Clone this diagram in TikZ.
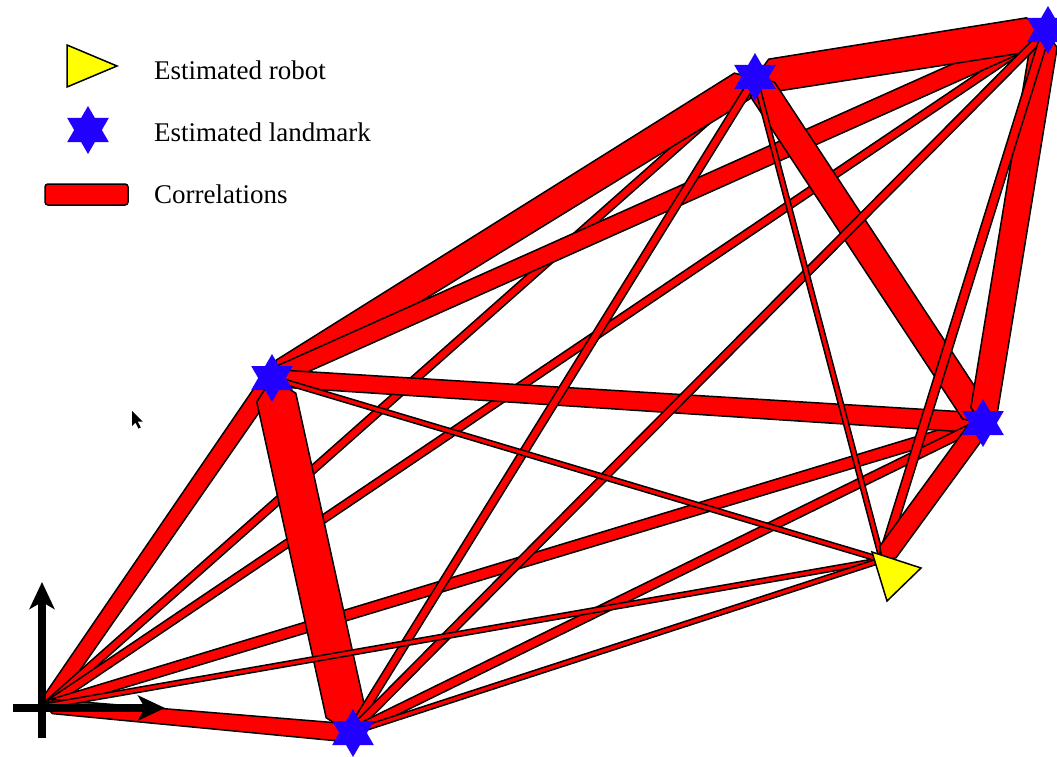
\documentclass[tikz,border=0pt]{standalone}
\usepackage{fontspec}
\setmainfont{Liberation Serif}
\usetikzlibrary{calc,shapes.geometric,arrows.meta}
\definecolor{lmblue}{RGB}{34,0,255}
\definecolor{bandred}{RGB}{255,0,0}
\definecolor{robyel}{RGB}{255,255,0}
\tikzset{
  bandsty/.style={fill=bandred, draw=black, line width=1.5pt, line join=round},
  lmstar/.style={star, star points=6, star point ratio=1.732, minimum size=48pt, inner sep=0pt, fill=lmblue, draw=none},
  robsty/.style={fill=robyel, draw=black, line width=1.5pt, line join=miter},
  axsty/.style={line width=7.5pt, -{Stealth[length=27pt,width=25pt,inset=7pt]}},
  legtext/.style={anchor=base west, inner sep=0pt, font=\fontsize{27}{32}\selectfont},
  cursorsty/.style={fill=black, draw=none}
}
% #1 start, #2 end, #3 half width at start, #4 half width at end
\newcommand\corrband[4]{%
  \filldraw[bandsty] (#1) -- ($(#1)!#3!(#2)!#3!90:(#2)$) -- ($(#2)!#4!(#1)!#4!-90:(#1)$) -- (#2)
    -- ($(#2)!#4!(#1)!#4!90:(#1)$) -- ($(#1)!#3!(#2)!#3!-90:(#2)$) -- cycle;}
\begin{document}
\begin{tikzpicture}[x=1pt,y=-1pt]
\useasboundingbox (0,0) rectangle (1057,757);
% band end points
\coordinate (O)  at (46,706);
\coordinate (L1) at (272,378);
\coordinate (L2) at (755,78);
\coordinate (L3) at (1046,32);
\coordinate (L4) at (982,423);
\coordinate (L5) at (350,733);
\coordinate (R)  at (882,560);
% correlations
\corrband{O}{L1}{7.5pt}{9pt}
\corrband{O}{L2}{4pt}{4pt}
\corrband{L1}{L2}{13pt}{15pt}
\corrband{O}{L3}{4pt}{4pt}
\corrband{L1}{L3}{9pt}{9pt}
\corrband{L2}{L3}{16.5pt}{17pt}
\corrband{O}{L4}{5pt}{6pt}
\corrband{L1}{L4}{8.5pt}{10pt}
\corrband{L2}{L4}{14pt}{14pt}
\corrband{L3}{L4}{13.5pt}{13.5pt}
\corrband{O}{L5}{7pt}{9pt}
\corrband{L1}{L5}{20pt}{20pt}
\corrband{L2}{L5}{4pt}{4pt}
\corrband{L3}{L5}{4pt}{4pt}
\corrband{L4}{L5}{4.5pt}{4.5pt}
\corrband{O}{R}{2.5pt}{2.5pt}
\corrband{L1}{R}{2.5pt}{2.5pt}
\corrband{L2}{R}{2.5pt}{2.5pt}
\corrband{L3}{R}{4.5pt}{4.5pt}
\corrband{L4}{R}{10pt}{10pt}
\corrband{L5}{R}{2.5pt}{2.5pt}
% axes
\coordinate (axb) at (42,738);
\coordinate (axt) at (42,582);
\coordinate (axl) at (13,708);
\coordinate (axr) at (165,708);
\draw[axsty] (axb) -- (axt);
\draw[axsty] (axl) -- (axr);
% landmarks
\node[lmstar] (s1) at (272,378) {};
\node[lmstar] (s2) at (755,77) {};
\node[lmstar] (s3) at (1048,30) {};
\node[lmstar] (s4) at (983,423) {};
\node[lmstar] (s5) at (353,733) {};
% robot
\coordinate (ra) at (872,552);
\coordinate (rb) at (921,568);
\coordinate (rc) at (887,601);
\draw[robsty] (ra) -- (rb) -- (rc) -- cycle;
% legend
\coordinate (ta) at (67,45);
\coordinate (tb) at (117,66);
\coordinate (tc) at (67,87);
\draw[robsty] (ta) -- (tb) -- (tc) -- cycle;
\node[lmstar] (legstar) at (88,130) {};
\draw[fill=bandred, draw=black, line width=1.5pt, rounded corners=3pt] (45,184) rectangle (128,205);
\node[legtext] (t1) at (154,80) {Estimated robot};
\node[legtext] (t2) at (154,141.5) {Estimated landmark};
\node[legtext] (t3) at (154,203) {Correlations};
% pointer
\coordinate (cur) at (132,411);
\fill[cursorsty] (cur) -- ++(0,15) -- ++(3.5,-3.5) -- ++(3,6) -- ++(2.3,-1) -- ++(-3,-5.8) -- ++(5,0) -- cycle;
\end{tikzpicture}
\end{document}
